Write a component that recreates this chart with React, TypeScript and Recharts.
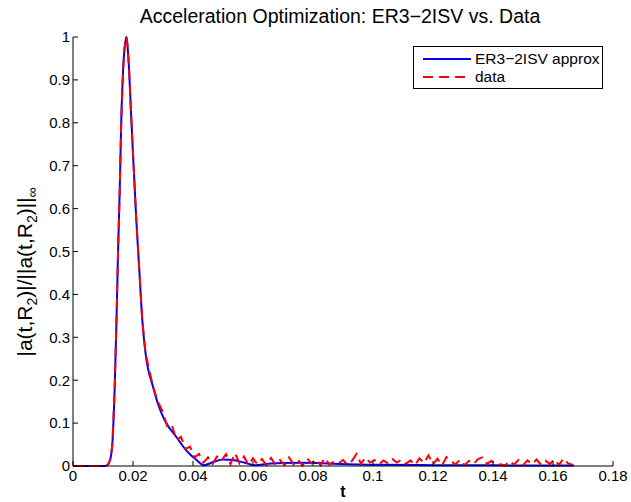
import { LineChart, Line, XAxis, YAxis, Label } from 'recharts';

// ER3-2ISV approximation (smooth curve)
const approxT = [
  0, 0.006, 0.0105, 0.0112, 0.0117, 0.0124, 0.0131, 0.0139, 0.0145, 0.015,
  0.0156, 0.0161, 0.0167, 0.0172, 0.0176, 0.0178, 0.0181, 0.0187, 0.0193, 0.02,
  0.0211, 0.0221, 0.0231, 0.0242, 0.0267, 0.0283, 0.0306, 0.0345, 0.0378, 0.041,
  0.0437, 0.047, 0.05, 0.0533, 0.057, 0.0606, 0.065, 0.07, 0.076, 0.082,
  0.087, 0.1, 0.12, 0.14, 0.167,
];
const approxY = [
  0, 0, 0, 0.001, 0.004, 0.015, 0.05, 0.183, 0.339, 0.495,
  0.65, 0.807, 0.923, 0.975, 0.995, 1, 0.985, 0.923, 0.83, 0.729,
  0.574, 0.457, 0.34, 0.262, 0.184, 0.145, 0.106, 0.067, 0.036, 0.015,
  0.002, 0.01, 0.015, 0.014, 0.008, 0.002, 0.005, 0.007, 0.0075, 0.007,
  0.005, 0.003, 0.002, 0.0015, 0.001,
];

// measured data (noisy)
const dataT = [
  0, 0.006, 0.0105, 0.0112, 0.0117, 0.0124, 0.0131, 0.0139, 0.0145, 0.015,
  0.0156, 0.0161, 0.0167, 0.0172, 0.0176, 0.0178, 0.0181, 0.0187, 0.0193, 0.02,
  0.0211, 0.0221, 0.0231, 0.0242, 0.0267, 0.0283,
  0.030, 0.0315, 0.033, 0.0345, 0.036, 0.0375, 0.039, 0.0405,
  0.042, 0.0435, 0.045, 0.0465, 0.048, 0.0495, 0.051, 0.0525,
  0.054, 0.0555, 0.057, 0.0585, 0.060, 0.0615, 0.063, 0.0645,
  0.066, 0.0675, 0.069, 0.0705, 0.072, 0.0735, 0.075, 0.0765,
  0.078, 0.0795, 0.081, 0.0825, 0.084, 0.0855, 0.087, 0.0885,
  0.090, 0.0915, 0.093, 0.0945, 0.096, 0.0975, 0.099, 0.1005,
  0.102, 0.1035, 0.105, 0.1065, 0.108, 0.1095, 0.111, 0.1125,
  0.114, 0.1155, 0.117, 0.1185, 0.120, 0.1215, 0.123, 0.1245,
  0.126, 0.1275, 0.129, 0.1305, 0.132, 0.1335, 0.135, 0.1365,
  0.138, 0.1395, 0.141, 0.1425, 0.144, 0.1455, 0.147, 0.1485,
  0.150, 0.1515, 0.153, 0.1545, 0.156, 0.1575, 0.159, 0.1605,
  0.162, 0.1635, 0.165, 0.1665,
];
const dataY = [
  0, 0, 0, 0.001, 0.004, 0.015, 0.05, 0.183, 0.339, 0.495,
  0.65, 0.807, 0.923, 0.975, 0.995, 1, 0.985, 0.923, 0.83, 0.729,
  0.574, 0.457, 0.34, 0.262, 0.184, 0.15,
  0.125, 0.09, 0.095, 0.06, 0.068, 0.04, 0.045, 0.02,
  0.028, 0.008, 0.02, 0.005, 0.022, 0.012, 0.028, 0.004,
  0.03, 0.006, 0.022, 0.002, 0.018, 0.004, 0.016, 0.002,
  0.019, 0.003, 0.014, 0.002, 0.02, 0.004, 0.015, 0.001,
  0.018, 0.006, 0.016, 0.002, 0.019, 0.003, 0.011, 0.006,
  0.014, 0.003, 0.012, 0.028, 0.005, 0.02, 0.008, 0.014,
  0.004, 0.013, 0.006, 0.016, 0.008, 0.015, 0.005, 0.013,
  0.002, 0.018, 0.007, 0.025, 0.004, 0.017, 0.001, 0.021,
  0.012, 0.003, 0.015, 0.002, 0.012, 0.004, 0.016, 0.02,
  0.005, 0.012, 0.002, 0.004, 0.001, 0.012, 0.003, 0.014,
  0.002, 0.013, 0.004, 0.015, 0.003, 0.012, 0.005, 0.016,
  0.002, 0.018, 0.006, 0.003,
];

const xTicks = [0, 0.02, 0.04, 0.06, 0.08, 0.1, 0.12, 0.14, 0.16, 0.18];
const yTicks = [0, 0.1, 0.2, 0.3, 0.4, 0.5, 0.6, 0.7, 0.8, 0.9, 1];
const seriesNames = ['ER3\u22122ISV approx', 'data'];
const seriesColors = ['#0000ff', '#ff0000'];

const approxPoints = approxT.map((t, i) => ({ t, y: approxY[i] }));
const dataPoints = dataT.map((t, i) => ({ t, y: dataY[i] }));

const font = '"Liberation Sans", Arial, sans-serif';
const tickStyle = { fill: '#000', fontSize: 15, fontFamily: font };

const YLabel = () => (
  <text
    transform="translate(32,272) rotate(-90)"
    textAnchor="middle"
    fontSize={21}
    fontFamily={font}
    fill="#000"
  >
    |a(t,R<tspan dy={5} fontSize={14}>2</tspan>
    <tspan dy={-5}>)|/||a(t,R</tspan>
    <tspan dy={5} fontSize={14}>2</tspan>
    <tspan dy={-5}>)||</tspan>
    <tspan dy={5} fontSize={14}>{'\u221e'}</tspan>
  </text>
);

const XLabel = () => (
  <text x={343} y={497} textAnchor="middle" fontSize={16} fontWeight="bold" fontFamily={font} fill="#000">
    t
  </text>
);

export default function App() {
  return (
    <div style={{ position: 'absolute', left: 0, top: 0, width: 631, height: 502, background: '#fff', fontFamily: font }}>
      <div
        style={{
          position: 'absolute',
          left: 70,
          top: 5,
          width: 540,
          textAlign: 'center',
          fontSize: 19.5,
          color: '#000',
        }}
      >
        Acceleration Optimization: ER3{'\u2212'}2ISV vs. Data
      </div>
      <LineChart width={631} height={502} margin={{ top: 37, right: 18, bottom: 0, left: 0 }}>
        <XAxis
          xAxisId="bottom"
          dataKey="t"
          type="number"
          domain={[0, 0.18]}
          ticks={xTicks}
          allowDataOverflow
          height={36}
          tickSize={-5}
          tickMargin={9}
          tick={tickStyle}
          stroke="#000"
        >
          <Label content={<XLabel />} />
        </XAxis>
        <XAxis
          xAxisId="top"
          orientation="top"
          dataKey="t"
          type="number"
          domain={[0, 0.18]}
          ticks={xTicks}
          height={0}
          tickSize={-5}
          tickFormatter={() => ''}
          stroke="#000"
        />
        <YAxis
          yAxisId="left"
          type="number"
          domain={[0, 1]}
          ticks={yTicks}
          width={73}
          tickSize={-5}
          tickMargin={8}
          tick={tickStyle}
          stroke="#000"
        >
          <Label content={<YLabel />} />
        </YAxis>
        <YAxis
          yAxisId="right"
          orientation="right"
          type="number"
          domain={[0, 1]}
          ticks={yTicks}
          width={0}
          tickSize={-5}
          tickFormatter={() => ''}
          stroke="#000"
        />
        <Line
          xAxisId="bottom"
          yAxisId="left"
          data={approxPoints}
          dataKey="y"
          type="monotone"
          stroke={seriesColors[0]}
          strokeWidth={2}
          dot={false}
          isAnimationActive={false}
          name={seriesNames[0]}
        />
        <Line
          xAxisId="bottom"
          yAxisId="left"
          data={dataPoints}
          dataKey="y"
          type="linear"
          stroke={seriesColors[1]}
          strokeWidth={2}
          strokeDasharray="10 6"
          dot={false}
          isAnimationActive={false}
          name={seriesNames[1]}
        />
      </LineChart>
      <div
        style={{
          position: 'absolute',
          left: 413,
          top: 46,
          width: 188,
          height: 41,
          border: '1px solid #000',
          background: '#fff',
          fontSize: 15.5,
          color: '#000',
        }}
      >
        {seriesNames.map((name, i) => (
          <div key={name} style={{ position: 'absolute', left: 0, top: 3 + i * 18.4, height: 18, display: 'flex', alignItems: 'center' }}>
            <svg width={60} height={18} style={{ display: 'block' }}>
              <line
                x1={9}
                x2={57}
                y1={9}
                y2={9}
                stroke={seriesColors[i]}
                strokeWidth={2}
                strokeDasharray={i === 1 ? '10 6' : undefined}
              />
            </svg>
            <span style={{ marginLeft: 1, lineHeight: '18px' }}>{name}</span>
          </div>
        ))}
      </div>
    </div>
  );
}
